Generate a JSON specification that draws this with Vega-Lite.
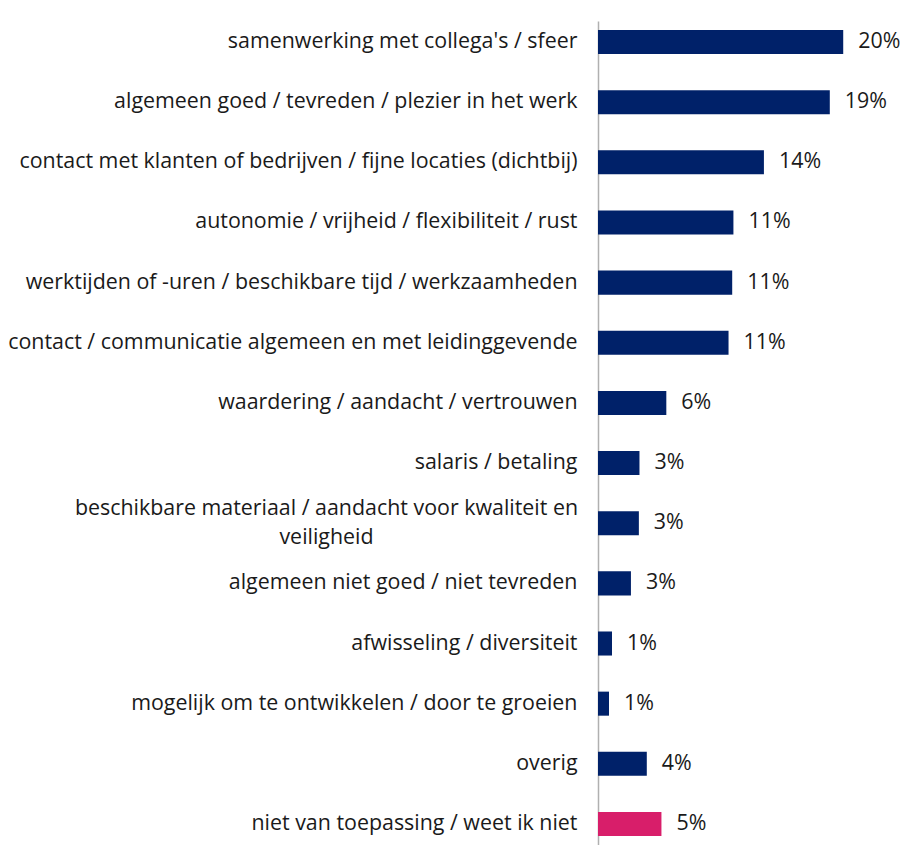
{
  "$schema": "https://vega.github.io/schema/vega-lite/v6.json",
  "autosize": {"type": "none"},
  "padding": {"left": 598, "top": 21, "right": 0, "bottom": 0},
  "width": 305,
  "height": 824,
  "background": "white",
  "config": {"view": {"stroke": null}, "font": "Open Sans"},
  "data": {
    "values": [
      {"cat": "samenwerking met collega's / sfeer", "value": 20.1, "label": "20%", "group": "a"},
      {"cat": "algemeen goed / tevreden / plezier in het werk", "value": 19.0, "label": "19%", "group": "a"},
      {"cat": "contact met klanten of bedrijven / fijne locaties (dichtbij)", "value": 13.6, "label": "14%", "group": "a"},
      {"cat": "autonomie / vrijheid / flexibiliteit / rust", "value": 11.1, "label": "11%", "group": "a"},
      {"cat": "werktijden of -uren / beschikbare tijd / werkzaamheden", "value": 11.0, "label": "11%", "group": "a"},
      {"cat": "contact / communicatie algemeen en met leidinggevende", "value": 10.7, "label": "11%", "group": "a"},
      {"cat": "waardering / aandacht / vertrouwen", "value": 5.6, "label": "6%", "group": "a"},
      {"cat": "salaris / betaling", "value": 3.4, "label": "3%", "group": "a"},
      {"cat": "beschikbare materiaal / aandacht voor kwaliteit en|veiligheid", "value": 3.35, "label": "3%", "group": "a"},
      {"cat": "algemeen niet goed / niet tevreden", "value": 2.7, "label": "3%", "group": "a"},
      {"cat": "afwisseling / diversiteit", "value": 1.15, "label": "1%", "group": "a"},
      {"cat": "mogelijk om te ontwikkelen / door te groeien", "value": 0.9, "label": "1%", "group": "a"},
      {"cat": "overig", "value": 4.0, "label": "4%", "group": "a"},
      {"cat": "niet van toepassing / weet ik niet", "value": 5.2, "label": "5%", "group": "b"}
    ]
  },
  "encoding": {
    "y": {
      "field": "cat",
      "type": "nominal",
      "sort": null,
      "scale": {"paddingInner": 0.6, "paddingOuter": 0.15},
      "axis": {
        "title": null,
        "ticks": false,
        "domain": true,
        "domainColor": "#b0b0b0",
        "domainWidth": 1.5,
        "labelExpr": "split(datum.label, '|')",
        "labelFont": "Open Sans",
        "labelFontSize": 21.4,
        "labelColor": "#1a1a1a",
        "labelPadding": {"condition": {"test": "indexof(datum.value, '|') >= 0", "value": 272}, "value": 21},
        "labelAlign": {"condition": {"test": "indexof(datum.value, '|') >= 0", "value": "center"}, "value": "right"},
        "labelOffset": {"condition": {"test": "indexof(datum.value, '|') >= 0", "value": -14.5}, "value": 0},
        "labelLimit": 700,
        "labelLineHeight": 29,
        "labelBaseline": "middle"
      }
    }
  },
  "layer": [
    {
      "mark": {"type": "bar", "clip": false},
      "encoding": {
        "x": {"field": "value", "type": "quantitative", "scale": {"domain": [0, 25], "nice": false, "zero": true}, "axis": null},
        "color": {
          "field": "group",
          "type": "nominal",
          "scale": {"domain": ["a", "b"], "range": ["#002169", "#d81e6a"]},
          "legend": null
        }
      }
    },
    {
      "mark": {"type": "text", "align": "left", "baseline": "middle", "dx": 15, "font": "Open Sans", "fontSize": 21.4, "color": "#1a1a1a"},
      "encoding": {
        "x": {"field": "value", "type": "quantitative"},
        "text": {"field": "label"}
      }
    }
  ]
}
